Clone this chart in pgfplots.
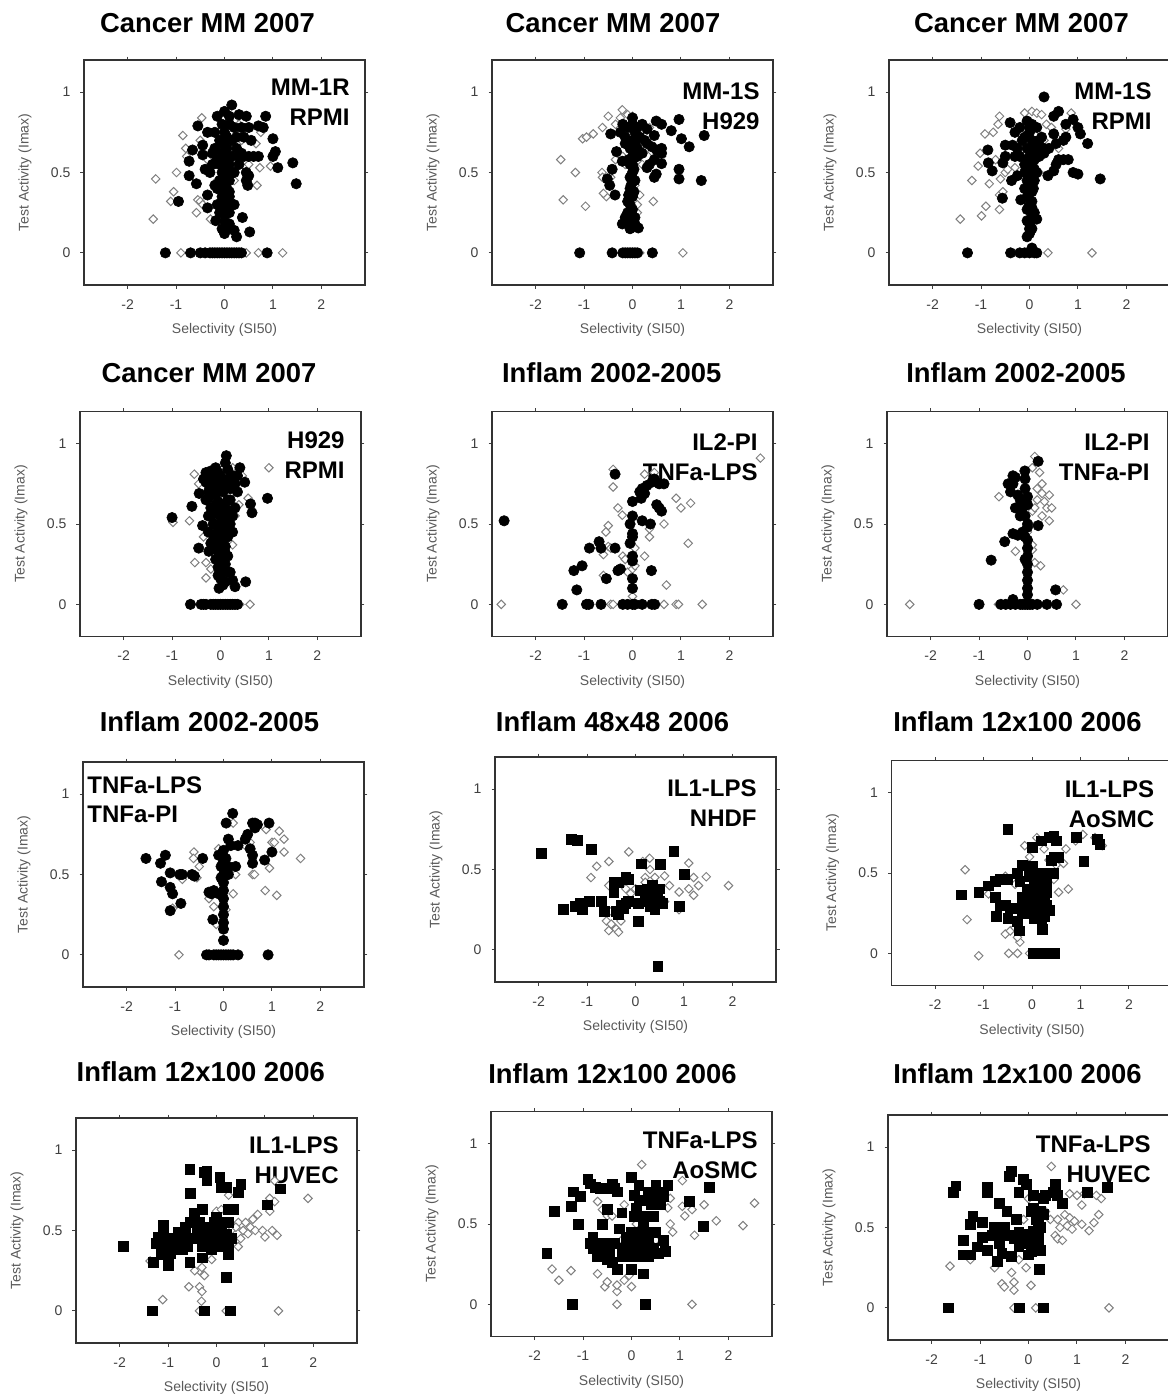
\documentclass[border=0pt]{standalone}
\usepackage{pgfplots}
\pgfplotsset{compat=1.18}
\usepackage{fontspec}
\setmainfont{Liberation Sans}
\pgfplotsset{
 panel/.style={
  scale only axis, width=140.5pt, height=112.5pt, anchor=north west,
  xmin=-2.9, xmax=2.9, ymin=-0.2, ymax=1.2,
  xtick={-2,-1,0,1,2}, xticklabels={-2,-1,0,1,2},
  ytick={0,0.5,1}, yticklabels={0,0.5,1},
  tick align=outside, major tick length=1.75pt,
  tick style={color=black!75, line width=0.5pt},
  axis line style={color=black!80, line width=0.8pt},
  ticklabel style={font=\fontsize{7}{8}\selectfont, text=black!75},
  x tick label style={yshift=-2pt},
  y tick label style={xshift=-1.5pt},
  xlabel={Selectivity (SI50)}, ylabel={Test Activity (Imax)},
  every axis x label/.style={at={(axis description cs:0.5,-0.2)},anchor=center,font=\fontsize{7}{8}\selectfont,text=black!65},
  every axis y label/.style={at={(axis description cs:-0.21,0.5)},anchor=center,rotate=90,font=\fontsize{7}{8}\selectfont,text=black!65},
 },
 circ/.style={only marks, mark=*, mark size=2.6pt, mark options={fill=black, draw=black, line width=0.3pt}},
 sq/.style={only marks, mark=square*, mark size=2.45pt, mark options={fill=black, draw=black, line width=0.3pt}},
 dia/.style={only marks, mark=square*, mark size=1.5pt, mark options={rotate=45, draw=black!50, fill=white, line width=0.5pt}},
}
\tikzset{
 ttl/.style={font=\fontsize{13.7}{16}\selectfont\bfseries},
 lab/.style={anchor=north east, align=right, inner sep=0pt, font=\fontsize{12}{15}\selectfont\bfseries},
 labl/.style={anchor=north west, align=left, inner sep=0pt, font=\fontsize{12}{14.5}\selectfont\bfseries},
}
\begin{document}
\begin{tikzpicture}
\path[use as bounding box] (0,0) rectangle (583.5pt,-698.5pt);
% titles
\node[ttl] at (103.75pt,-11.35pt) {Cancer MM 2007};
\node[ttl] at (306.5pt,-11.35pt) {Cancer MM 2007};
\node[ttl] at (510.75pt,-11.35pt) {Cancer MM 2007};
\node[ttl] at (104.5pt,-186.35pt) {Cancer MM 2007};
\node[ttl] at (305.85pt,-186.35pt) {Inflam 2002-2005};
\node[ttl] at (508pt,-186.35pt) {Inflam 2002-2005};
\node[ttl] at (104.75pt,-360.85pt) {Inflam 2002-2005};
\node[ttl] at (306.25pt,-360.85pt) {Inflam 48x48 2006};
\node[ttl] at (508.75pt,-360.85pt) {Inflam 12x100 2006};
\node[ttl] at (100.4pt,-535.85pt) {Inflam 12x100 2006};
\node[ttl] at (306.25pt,-537pt) {Inflam 12x100 2006};
\node[ttl] at (508.75pt,-537pt) {Inflam 12x100 2006};

% P1
\begin{axis}[panel, at={(42pt,-30pt)}]
\addplot[dia] coordinates {(-1.47,0.21) (-1.42,0.46) (-1.11,0.32) (-1.05,0.38) (-0.99,0.5) (-0.86,0.73) (-0.8,0.65) (-0.78,0.6) (-0.47,0.84) (-0.55,0.33) (-0.58,0.25) (-0.5,0.32) (-0.45,0.3) (-0.29,0.21) (-0.3,0.75) (-0.5,0.7) (-0.2,0.55) (-0.35,0.58) (0.2,0.82) (0.3,0.8) (0.35,0.7) (0.5,0.7) (0.65,0.68) (0.73,0.53) (0.95,0.54) (0.67,0.42) (0.75,0.75) (0.5,0.55) (0.45,0.6) (0.2,0.45) (0.1,0.6) (0.25,0.55) (0,0.58) (-0.1,0.4) (-0.15,0.45) (-0.9,0) (0.45,0) (0.7,0) (1.2,0) (0.3,0)};
\addplot[circ] coordinates {(-1.22,0) (-0.7,0) (-0.5,0) (-0.4,0) (-0.3,0) (-0.25,0) (-0.2,0) (-0.15,0) (-0.1,0) (-0.05,0) (0,0) (0.05,0) (0.1,0) (0.15,0) (0.2,0) (0.25,0) (0.3,0) (0.35,0) (0.88,0)
(0.15,0.92) (0,0.88) (-0.15,0.85) (0.3,0.86) (0.45,0.85) (0.85,0.85) (0.1,0.8) (-0.05,0.8) (0.5,0.78) (0.7,0.79) (0.8,0.78) (-0.55,0.79) (-0.35,0.75) (0.25,0.72) (0.4,0.72) (1.0,0.71) (-0.45,0.67) (-0.2,0.65) (-0.66,0.64) (0.05,0.65) (0.5,0.6) (0.6,0.6) (0.7,0.6) (0.4,0.6) (1.0,0.6) (1.05,0.63) (-0.45,0.61) (-0.73,0.57) (-0.4,0.52) (-0.3,0.5) (0.2,0.5) (0.45,0.5) (0.5,0.48) (1.1,0.53) (1.41,0.56) (1.48,0.43) (-0.73,0.48) (-0.58,0.43) (0.45,0.45) (0.48,0.42) (-0.2,0.42) (-0.35,0.36) (-0.95,0.32) (-0.35,0.28) (-0.15,0.3) (0.1,0.35) (0.2,0.3) (0.37,0.22) (-0.18,0.2) (0.05,0.15) (0.2,0.14) (0.25,0.1) (0.52,0.13) (0,0.12) (0,0.2) (0,0.25) (0,0.3) (0,0.35) (0,0.4) (0,0.45) (0,0.5) (0,0.55) (0,0.6) (0,0.7) (0,0.75) (-0.05,0.5) (0.05,0.4) (-0.1,0.55) (0.1,0.45) (-0.05,0.35) (0.05,0.3) (0.05,0.6) (-0.1,0.7) (0.15,0.7) (0.2,0.78) (0.1,0.85) (-0.05,0.62) (-0.15,0.58) (0.15,0.6) (0.3,0.55) (0.3,0.6) (-0.25,0.55) (0.02,0.65) (0.05,0.25) (-0.05,0.45) (0.1,0.38)
(-0.1,0.25) (0.1,0.25) (-0.1,0.45) (0.1,0.55) (-0.15,0.4) (0.15,0.5) (-0.05,0.68) (0.05,0.72) (-0.2,0.75) (0.25,0.65) (0.35,0.78) (-0.25,0.62) (0.1,0.18) (-0.05,0.15) (0.35,0.62) (0.55,0.7)};
\node[lab] at ([xshift=-7.5pt,yshift=-9.5pt]rel axis cs:1,1) {MM-1R\\RPMI};
\end{axis}

% P2
\begin{axis}[panel, at={(246pt,-30pt)}]
\addplot[dia] coordinates {(-1.48,0.58) (-1.43,0.33) (-1.18,0.5) (-0.97,0.29) (-1.03,0.71) (-0.95,0.72) (-0.81,0.74) (-0.62,0.78) (-0.5,0.85) (-0.21,0.89) (-0.25,0.84) (-0.1,0.86) (0,0.85) (-0.35,0.8) (-0.63,0.5) (-0.62,0.47) (-0.54,0.35) (-0.6,0.37) (-0.35,0.58) (-0.2,0.6) (-0.15,0.55) (-0.45,0.47) (0.15,0.36) (0.1,0.25) (0.1,0.3) (0.43,0.32) (0.2,0.8) (0.35,0.78) (0.5,0.6) (0.4,0.63) (0.6,0.6) (0.1,0.7) (0.2,0.55) (0.05,0.42) (0,0.45) (0.15,0) (0.1,0) (1.04,0)};
\addplot[circ] coordinates {(-1.09,0) (-0.42,0) (-0.2,0) (-0.15,0) (-0.1,0) (-0.05,0) (0,0) (0.05,0) (0.1,0) (0.41,0)
(0.12,0.155) (-0.21,0.18) (-0.15,0.22) (-0.1,0.25) (-0.05,0.3) (0,0.35) (-0.05,0.4) (0,0.45) (0,0.5) (-0.05,0.55) (0,0.6) (-0.05,0.65) (0,0.7) (0.05,0.75) (0,0.8) (0,0.84) (-0.1,0.78) (0.05,0.68) (-0.08,0.58) (0.03,0.52) (-0.03,0.42) (0.03,0.38) (-0.1,0.32) (0,0.27) (-0.08,0.2) (0.05,0.22)
(-0.45,0.74) (-0.25,0.75) (-0.15,0.72) (-0.33,0.63) (-0.21,0.57) (-0.42,0.52) (-0.52,0.46) (-0.47,0.42) (-0.36,0.36)
(0.49,0.82) (0.6,0.8) (0.96,0.83) (0.8,0.76) (1.48,0.73) (1.01,0.71) (1.17,0.66) (0.6,0.65) (0.45,0.73) (0.3,0.77) (0.2,0.8) (0.3,0.68) (0.4,0.66) (0.5,0.64) (0.6,0.62) (0.6,0.555) (0.35,0.55) (0.3,0.53) (0.45,0.58) (0.49,0.49) (0.45,0.47) (0.96,0.52) (0.96,0.46) (1.42,0.45) (0.15,0.72) (0.1,0.6) (0.2,0.62)
(-0.05,0.15) (0.05,0.18) (0,0.2) (-0.05,0.47) (0.05,0.6) (0,0.55) (0.1,0.78) (-0.15,0.68) (-0.2,0.8) (0.25,0.7) (0.1,0.65) (-0.08,0.36) (0.05,0.45) (0,0.65)};
\node[lab] at ([xshift=-6.5pt,yshift=-11pt]rel axis cs:1,1) {MM-1S\\H929};
\end{axis}

% P3
\begin{axis}[panel, at={(444.5pt,-30pt)}]
\addplot[dia] coordinates {(-1.43,0.21) (-1.19,0.45) (-0.99,0.23) (-0.9,0.29) (-0.83,0.43) (-1.06,0.54) (-1.02,0.62) (-0.92,0.74) (-0.75,0.75) (-0.62,0.85) (-0.65,0.8) (-0.62,0.27) (-0.62,0.36) (-0.55,0.38) (-0.6,0.46) (-0.5,0.5) (-0.45,0.52) (-0.7,0.58) (-0.3,0.53) (-0.1,0.87) (0.05,0.88) (0.15,0.87) (0.25,0.86) (0.35,0.8) (0.45,0.78) (0.86,0.87) (0.75,0.77) (0.6,0.65) (0.55,0.72) (0.3,0.7) (0.2,0.5) (0,0.4) (0,0.25) (0.38,0) (1.29,0)};
\addplot[circ] coordinates {(-1.28,0) (-0.39,0) (-0.2,0) (-0.1,0) (0,0) (0.05,0.03) (0.1,0) (0.15,0) (0.3,0.97)
(0,0.12) (0,0.15) (-0.05,0.2) (0.05,0.22) (0.15,0.21) (0.1,0.25) (0,0.3) (-0.05,0.35) (0.05,0.38) (0,0.42) (-0.18,0.33) (-0.05,0.45) (0,0.5) (0.05,0.55) (0,0.6) (-0.05,0.65) (0.05,0.7) (0,0.75) (0.05,0.8) (-0.05,0.82) (0.1,0.62) (0.1,0.52) (0.15,0.65) (0.2,0.6) (0.25,0.72) (0.15,0.78) (-0.15,0.7) (-0.2,0.6) (-0.25,0.48) (-0.1,0.5) (-0.37,0.45) (-0.56,0.34) (-0.86,0.64) (-0.85,0.56) (-0.77,0.51) (-0.55,0.56) (-0.5,0.67) (-0.35,0.67) (-0.3,0.6) (-0.4,0.81) (-0.3,0.75) (-0.5,0.6) (0.38,0.48) (0.5,0.51) (0.55,0.55) (0.6,0.58) (0.7,0.58) (0.8,0.58) (0.9,0.5) (1.0,0.49) (1.46,0.46) (1.2,0.68) (1.05,0.74) (1.0,0.78) (0.9,0.83) (0.75,0.8) (0.6,0.88) (0.5,0.85) (0.5,0.74) (0.7,0.7) (0.4,0.65) (0.55,0.68) (0.3,0.65) (0.75,0.72) (-0.1,0.4) (0.05,0.28) (-0.05,0.58)
(-0.05,0.1) (0.05,0.15) (0,0.18) (0.05,0.32) (-0.05,0.27) (0.1,0.45) (0.08,0.4) (-0.1,0.72) (0.1,0.68) (0,0.78) (-0.2,0.78) (0.2,0.7) (-0.25,0.65) (0.1,0.58) (-0.1,0.55) (0.3,0.62) (0.15,0.5)};
\node[lab] at ([xshift=-9pt,yshift=-11pt]rel axis cs:1,1) {MM-1S\\RPMI};
\end{axis}

% P4
\begin{axis}[panel, at={(40pt,-205.75pt)}]
\addplot[dia] coordinates {(1.0,0.85) (0.57,0.66) (0.38,0.62) (-0.54,0.81) (-0.45,0.75) (-0.64,0.52) (-0.98,0.51) (-0.53,0.26) (-0.3,0.165) (-0.3,0.26) (-0.35,0.42) (-0.2,0.22) (0.25,0.37) (0.3,0.55) (0.3,0.7) (0.25,0.85) (0.45,0.8) (0.2,0.8) (0.61,0) (0.4,0)};
\addplot[circ] coordinates {(-0.62,0) (-0.4,0) (-0.35,0) (-0.3,0) (-0.2,0) (-0.15,0) (-0.1,0) (-0.05,0) (0,0) (0.05,0) (0.1,0) (0.15,0) (0.2,0) (0.25,0) (0.3,0) (0.35,0)
(0.12,0.925) (0.1,0.88) (-1.0,0.54) (-0.59,0.61) (-0.45,0.35) (-0.37,0.49) (-0.44,0.69) (-0.24,0.33) (0.52,0.14) (0.25,0.15) (0.3,0.11) (0.62,0.625) (0.65,0.57) (0.97,0.66) (0.4,0.85) (0.35,0.8) (0.5,0.76) (0.3,0.6) (0.25,0.55) (0.2,0.5)
(-0.3,0.82) (-0.25,0.8) (-0.2,0.83) (-0.15,0.81) (-0.1,0.78) (-0.05,0.82) (0,0.8) (0.05,0.77) (-0.3,0.76) (-0.2,0.74) (-0.15,0.7) (-0.25,0.66) (-0.1,0.68) (0,0.72) (0.1,0.74) (0.2,0.72) (-0.05,0.64) (0.05,0.62) (-0.15,0.6) (-0.3,0.65) (0.15,0.65) (-0.2,0.55) (-0.05,0.56) (0.05,0.52) (-0.1,0.5) (0.1,0.55) (-0.25,0.45) (-0.05,0.45) (0.05,0.45) (0.15,0.42) (-0.15,0.4) (0,0.4) (-0.2,0.38) (0.1,0.36) (-0.05,0.33) (0.05,0.3) (0,0.27) (-0.05,0.23) (0.05,0.2) (0,0.16) (0.1,0.14) (-0.03,0.1) (0.1,0.25) (0.15,0.3) (-0.1,0.28) (0.2,0.2)
(-0.25,0.75) (-0.15,0.76) (-0.05,0.74) (0.05,0.7) (0.15,0.78) (0.25,0.8) (-0.25,0.7) (-0.1,0.62) (0,0.6) (0.1,0.6) (0.2,0.65) (-0.2,0.6) (-0.15,0.5) (0,0.5) (0.1,0.48) (-0.1,0.44) (0.05,0.4) (-0.05,0.38) (0.1,0.32) (-0.1,0.34) (0,0.33) (-0.05,0.28) (0.05,0.25) (-0.05,0.18) (0.05,0.12) (0,0.22) (0.15,0.2) (-0.25,0.55) (0.2,0.58) (0.3,0.75) (0.35,0.7) (-0.35,0.78) (0.15,0.84) (-0.1,0.85) (0.25,0.45) (0.15,0.47)};
\node[lab] at ([xshift=-8pt,yshift=-10pt]rel axis cs:1,1) {H929\\RPMI};
\end{axis}

% P5
\begin{axis}[panel, at={(246pt,-205.75pt)}]
\addplot[dia] coordinates {(-2.71,0) (-0.45,0) (-0.4,0) (0,0.05) (0.65,0) (0.9,0) (0.95,0) (1.44,0) (-0.4,0.84) (-0.4,0.73) (-0.3,0.6) (-0.21,0.555) (-0.5,0.49) (-0.55,0.45) (-0.5,0.36) (-0.45,0.35) (-0.6,0.31) (-0.6,0.18) (-0.2,0.3) (-0.1,0.2) (-0.15,0.28) (0,0.22) (0.05,0.24) (0.05,0.35) (0.25,0.3) (0.35,0.42) (0.35,0.47) (0.25,0.81) (0.45,0.82) (0.65,0.5) (0.7,0.12) (0.9,0.66) (1.0,0.6) (1.2,0.63) (1.15,0.38) (2.64,0.91)};
\addplot[circ] coordinates {(-2.65,0.52) (-1.45,0) (-0.95,0) (-0.9,0) (-0.65,0) (-0.2,0) (-0.1,0) (0,0) (0.05,0) (0.2,0) (0.4,0) (0.46,0)
(-1.15,0.09) (-1.21,0.21) (-1.04,0.24) (-0.89,0.35) (-0.69,0.39) (-0.65,0.35) (-0.54,0.16) (-0.36,0.35) (-0.3,0.21) (-0.25,0.22) (-0.36,0.81) (0,0.1) (0,0.16) (0,0.27) (0,0.3) (-0.05,0.38) (0,0.42) (0,0.44) (-0.05,0.5) (0,0.55) (0,0.64) (0.18,0.66) (0.15,0.7) (0.2,0.72) (0.3,0.74) (0.4,0.76) (0.45,0.78) (0.55,0.75) (0.65,0.75) (0.25,0.69) (0.2,0.52) (0.37,0.5) (0.5,0.62) (0.55,0.6) (0.6,0.58) (0.39,0.21)};
\node[lab] at ([xshift=-7.5pt,yshift=-11pt]rel axis cs:1,1) {IL2-PI\\TNFa-LPS};
\end{axis}

% P6
\begin{axis}[panel, at={(443.5pt,-205.75pt)}]
\addplot[dia] coordinates {(-2.43,0) (1.0,0) (0.74,0.09) (0.27,0.24) (-0.59,0.67) (-0.25,0.33) (0.1,0.34) (0.1,0.37) (0.15,0.92) (0.1,0.85) (0.25,0.82) (0.3,0.75) (0.2,0.72) (0.2,0.65) (0.3,0.69) (0.45,0.68) (0.4,0.6) (0.5,0.6) (0.45,0.52) (0.3,0.55) (0.35,0.64) (0.1,0.58) (0.15,0.6) (0.05,0.5) (0,0.45) (0.15,0.26) (0,0.02) (0.25,0) (0.2,0) (-0.6,0)};
\addplot[circ] coordinates {(-1.0,0) (-0.55,0) (-0.45,0) (-0.35,0) (-0.3,0.03) (-0.25,0) (-0.15,0) (-0.1,0) (-0.05,0) (0,0) (0.05,0) (0.1,0) (0.2,0) (0.4,0) (0.6,0) (0.58,0.09) (-0.75,0.275) (-0.47,0.39) (-0.3,0.44) (-0.2,0.43) (-0.1,0.45) (0,0.4) (0,0.35) (0,0.3) (0,0.25) (0,0.2) (0,0.15) (0,0.1) (0,0.06) (-0.05,0.28) (0,0.5) (-0.05,0.55) (-0.15,0.55) (-0.25,0.6) (-0.1,0.6) (0,0.62) (0,0.67) (-0.35,0.7) (-0.4,0.75) (-0.3,0.8) (-0.25,0.79) (-0.055,0.83) (0.22,0.89) (0.22,0.49) (-0.1,0.65) (-0.2,0.68)
(0,0.48) (-0.05,0.42) (-0.05,0.72) (-0.15,0.65) (-0.05,0.78) (-0.3,0.75)};
\node[lab] at ([xshift=-9pt,yshift=-11pt]rel axis cs:1,1) {IL2-PI\\TNFa-PI};
\end{axis}

% P7
\begin{axis}[panel, at={(41.5pt,-381pt)}]
\addplot[dia] coordinates {(-0.92,0) (-0.61,0.64) (-0.62,0.6) (-0.55,0.48) (-0.5,0.55) (-0.85,0.47) (-0.95,0.5) (-1.05,0.29) (-0.3,0.35) (-0.2,0.3) (-0.15,0.19) (-0.1,0.66) (0,0.55) (0.05,0.28) (0.2,0.38) (0.2,0.82) (0.45,0.68) (0.25,0.5) (0.55,0.7) (0.6,0.5) (0.88,0.78) (0.86,0.4) (0.95,0.54) (1.0,0.7) (1.05,0.7) (1.1,0.37) (1.15,0.77) (1.25,0.72) (1.25,0.64) (1.59,0.6) (0.64,0.5)};
\addplot[circ] coordinates {(-0.35,0) (-0.3,0) (-0.2,0) (-0.15,0) (-0.1,0) (-0.05,0) (0,0) (0.05,0) (0.1,0) (0.15,0) (0.2,0) (0.3,0) (0.92,0)
(-1.6,0.6) (-1.3,0.57) (-1.2,0.62) (-1.28,0.455) (-1.1,0.51) (-1.1,0.42) (-1.05,0.38) (-1.1,0.275) (-0.88,0.32) (-0.9,0.5) (-0.85,0.5) (-0.65,0.5) (-0.6,0.49) (-0.43,0.6) (-0.25,0.38) (-0.3,0.39) (-0.2,0.4) (-0.1,0.38) (-0.22,0.22) (0,0.09) (0,0.16) (0,0.2) (0,0.25) (0,0.3) (0,0.35) (0,0.4) (0,0.45) (0,0.5) (-0.05,0.55) (-0.1,0.62) (0.05,0.6) (0.1,0.5) (0.1,0.55) (0.055,0.82) (0.19,0.88) (0.1,0.72) (0.15,0.68) (0.3,0.68) (0.25,0.55) (0.45,0.72) (0.5,0.75) (0.55,0.66) (0.6,0.62) (0.6,0.57) (0.7,0.81) (0.65,0.82) (0.6,0.82) (0.65,0.79) (0.94,0.82) (0.85,0.59) (1.0,0.64) (0,0.65)
(-0.05,0.48) (0.05,0.52) (0,0.58)};
\node[labl] at ([xshift=2pt,yshift=-7pt]rel axis cs:0,1) {TNFa-LPS\\TNFa-PI};
\end{axis}

% P8
\begin{axis}[panel, at={(247.5pt,-378.5pt)}]
\addplot[dia] coordinates {(-0.92,0.45) (-0.8,0.52) (-0.55,0.55) (-0.55,0.4) (-0.5,0.24) (-0.6,0.18) (-0.55,0.12) (-0.5,0.16) (-0.4,0.13) (-0.35,0.11) (-0.3,0.18) (-0.2,0.38) (-0.14,0.61) (0,0.38) (-0.1,0.35) (0.15,0.55) (0.2,0.45) (0.2,0.42) (0.3,0.5) (0.29,0.57) (0.4,0.45) (0.45,0.38) (0.6,0.46) (0.7,0.4) (0.9,0.36) (0.9,0.25) (1.1,0.54) (1.1,0.38) (1.2,0.45) (1.2,0.34) (1.3,0.4) (1.46,0.455) (1.92,0.4) (0.6,0.3)};
\addplot[sq] coordinates {(-1.94,0.6) (-1.32,0.69) (-1.2,0.68) (-0.91,0.625) (-1.49,0.25) (-1.25,0.27) (-1.15,0.29) (-1.1,0.25) (-0.95,0.3) (-0.7,0.3) (-0.65,0.24) (-0.45,0.42) (-0.45,0.36) (-0.35,0.42) (-0.3,0.28) (-0.35,0.22) (-0.25,0.26) (-0.2,0.45) (-0.2,0.29) (-0.15,0.3) (0.05,0.18) (0.05,0.29) (0.1,0.37) (0.12,0.535) (0.2,0.35) (0.25,0.3) (0.3,0.27) (0.3,0.36) (0.35,0.4) (0.35,0.33) (0.4,0.3) (0.4,0.25) (0.45,0.35) (0.5,0.3) (0.5,0.38) (0.55,0.29) (0.51,0.53) (0.79,0.615) (0.91,0.27) (1.0,0.47) (0.46,-0.1) (0.3,0.3) (0.35,0.28) (-0.4,0.24) (-0.15,0.44) (0.25,0.38)};
\node[lab] at ([xshift=-9.5pt,yshift=-11pt]rel axis cs:1,1) {IL1-LPS\\NHDF};
\end{axis}

% P9
\begin{axis}[panel, at={(445.75pt,-380.25pt)}]
\addplot[dia] coordinates {(-1.38,0.52) (-1.34,0.21) (-1.1,-0.015) (-0.48,0) (-0.3,0) (-0.05,0) (-0.55,0.12) (-0.45,0.14) (-0.35,0.16) (-0.3,0.2) (-0.25,0.07) (-0.3,0.1) (-0.35,0.43) (-0.55,0.48) (-0.9,0.37) (-0.15,0.67) (-0.05,0.6) (0.1,0.72) (0.25,0.65) (0.15,0.5) (0.5,0.55) (0.65,0.56) (0.7,0.65) (0.75,0.4) (0.55,0.38) (0.45,0.46) (0.35,0.58) (0.9,0.7) (1.05,0.74) (1.45,0.67) (1.3,0.72)};
\addplot[sq] coordinates {(-1.46,0.365) (-1.1,0.38) (-0.9,0.42) (-0.75,0.45) (-0.65,0.46) (-0.5,0.46) (-0.75,0.35) (-0.65,0.3) (-0.74,0.23) (-0.5,0.22) (-0.55,0.3) (-0.45,0.28) (-0.5,0.77) (-0.3,0.5) (-0.2,0.55) (-0.25,0.45) (-0.1,0.4) (-0.2,0.35) (-0.3,0.28) (-0.27,0.14) (-0.3,0.2) (0,0.66) (0,0.54) (0.1,0.5) (0.15,0.45) (0.2,0.4) (0.05,0.35) (0.1,0.3) (0.15,0.25) (0.2,0.28) (0.25,0.33) (0.3,0.3) (0.35,0.27) (0.25,0.5) (0.35,0.5) (0.45,0.5) (0.21,0.15) (0.2,0.7) (0.35,0.72) (0.45,0.73) (0.5,0.7) (0.45,0.6) (0.55,0.6) (0.4,0.58) (0.92,0.72) (1.34,0.71) (1.4,0.68) (1.07,0.575) (0,0.3) (-0.05,0.38) (0.1,0.38) (0.15,0.35) (0,0.25) (0.05,0.22) (0.2,0.22) (0.25,0.23) (0.02,0) (0.25,0) (0.3,0) (0.35,0) (0.47,0)
(0,0.4) (0.05,0.45) (-0.1,0.33) (0.1,0.42) (0.2,0.35) (0.3,0.38) (-0.15,0.3) (0.05,0.27) (0.15,0.3) (0.25,0.42) (-0.05,0.48) (0.3,0.45) (-0.2,0.25)};
\node[lab] at ([xshift=-9pt,yshift=-10pt]rel axis cs:1,1) {IL1-LPS\\AoSMC};
\end{axis}

% P10
\begin{axis}[panel, at={(38pt,-559pt)}]
\addplot[dia] coordinates {(-1.37,0.31) (-1.11,0.07) (-0.57,0.15) (-0.31,0.06) (-0.35,0.15) (-0.3,0.12) (-0.35,0.25) (-0.3,0.27) (-0.25,0.22) (-0.45,0.25) (-0.35,0) (0.2,0) (1.28,0) (-0.1,0.32) (0,0.62) (0.1,0.63) (0.25,0.72) (0.45,0.55) (0.45,0.4) (0.5,0.45) (0.55,0.5) (0.6,0.55) (0.65,0.48) (0.7,0.52) (0.75,0.57) (0.8,0.5) (0.85,0.6) (0.95,0.5) (1.0,0.46) (1.1,0.62) (1.1,0.7) (1.15,0.5) (1.2,0.81) (1.2,0.68) (1.25,0.47) (1.89,0.7) (0.3,0.5) (0.4,0.52)};
\addplot[sq] coordinates {(-1.93,0.4) (-1.32,0) (-0.25,0) (0.28,0) (0.21,0.21) (-1.3,0.3) (-1.25,0.42) (-1.2,0.46) (-1.1,0.53) (-1.05,0.4) (-1.0,0.33) (-1.0,0.28) (-0.95,0.36) (-0.9,0.42) (-0.8,0.49) (-0.75,0.44) (-0.7,0.38) (-0.65,0.4) (-0.6,0.45) (-0.55,0.55) (-0.55,0.3) (-0.55,0.88) (-0.54,0.73) (-0.45,0.61) (-0.4,0.51) (-0.35,0.45) (-0.3,0.63) (-0.3,0.4) (-0.3,0.33) (-0.25,0.86) (-0.2,0.87) (-0.2,0.81) (-0.15,0.5) (-0.1,0.45) (-0.05,0.55) (0,0.58) (0,0.42) (0.07,0.83) (0.1,0.77) (0.2,0.77) (0.25,0.63) (0.25,0.55) (0.2,0.48) (0.1,0.45) (0.25,0.35) (0.35,0.63) (0.45,0.74) (0.5,0.79) (1.05,0.66) (1.31,0.76) (-0.1,0.38) (0.05,0.4) (0.15,0.45) (-0.2,0.4) (-0.45,0.45) (-0.85,0.38) (-1.15,0.35) (-1.1,0.47) (-0.65,0.52) (0,0.5) (0.1,0.55) (-0.35,0.55)
(-0.2,0.45) (0,0.45) (0.2,0.42) (-0.1,0.5) (0.1,0.5) (0.2,0.55) (-0.25,0.52) (0.3,0.45) (0.25,0.4) (-0.75,0.38) (-0.9,0.45) (-0.6,0.4)};
\node[lab] at ([xshift=-9pt,yshift=-9pt]rel axis cs:1,1) {IL1-LPS\\HUVEC};
\end{axis}

% P11
\begin{axis}[panel, at={(245.5pt,-555.75pt)}]
\addplot[dia] coordinates {(-1.64,0.22) (-1.5,0.15) (-1.25,0.21) (-0.7,0.19) (-0.55,0.11) (-0.5,0.14) (-0.3,0.08) (-0.3,0.12) (-0.3,0) (0,0.11) (-0.05,0.18) (-0.15,0.15) (-0.7,0.64) (-0.6,0.59) (-0.5,0.55) (-0.15,0.62) (0.21,0.87) (0.75,0.6) (0.8,0.66) (0.8,0.5) (0.85,0.45) (1.05,0.77) (1.05,0.61) (1.1,0.55) (1.25,0.59) (1.3,0.43) (1.25,0) (1.5,0.62) (1.75,0.52) (2.3,0.49) (2.54,0.63) (-0.2,0.4) (0.1,0.5) (0.5,0.4) (-0.4,0.55)};
\addplot[sq] coordinates {(-1.75,0.32) (-1.6,0.58) (-1.25,0.61) (-1.2,0.7) (-1.05,0.67) (-1.09,0.5) (-1.23,0) (0.29,0) (-0.9,0.78) (-0.85,0.75) (-0.75,0.73) (-0.65,0.72) (-0.55,0.72) (-0.4,0.75) (-0.35,0.72) (-0.3,0.7) (-0.6,0.5) (-0.5,0.59) (-0.7,0.38) (-0.8,0.42) (-0.8,0.35) (-0.7,0.3) (-0.6,0.3) (-0.5,0.28) (-0.4,0.26) (-0.3,0.22) (-0.25,0.47) (-0.2,0.57) (-0.1,0.37) (-0.05,0.35) (0,0.79) (0.05,0.68) (0.1,0.6) (0.15,0.74) (0.2,0.55) (0.25,0.5) (0.3,0.65) (0.35,0.7) (0.4,0.62) (0.45,0.55) (0.5,0.74) (0.5,0.45) (0.45,0.35) (0.3,0.4) (0.2,0.38) (0,0.22) (0.25,0.19) (0.2,0.3) (0.1,0.33) (0.35,0.3) (0.55,0.32) (0.65,0.4) (0.7,0.33) (0.75,0.74) (0.55,0.7) (0.6,0.62) (0.65,0.67) (1.2,0.64) (1.48,0.485) (1.61,0.73) (-0.35,0.38) (-0.2,0.35) (0,0.45) (0.15,0.42) (0.25,0.35) (-0.5,0.38) (-0.1,0.31)
(0,0.3) (0.1,0.38) (0.2,0.45) (-0.1,0.42) (0.35,0.38) (0.4,0.45) (0.3,0.55) (0.45,0.65) (0.15,0.65) (-0.2,0.3) (0.05,0.55) (-0.6,0.35) (-0.45,0.33) (-0.85,0.38)};
\node[lab] at ([xshift=-7pt,yshift=-10pt]rel axis cs:1,1) {TNFa-LPS\\AoSMC};
\end{axis}

% P12
\begin{axis}[panel, at={(444pt,-557.5pt)}]
\addplot[dia] coordinates {(-1.62,0.26) (-1.2,0.3) (-0.7,0.25) (-0.55,0.15) (-0.5,0.13) (-0.3,0.16) (-0.3,0.11) (-0.35,0.22) (-0.2,0.3) (-0.05,0.25) (0.05,0.14) (-0.3,0) (0.15,0) (1.66,0) (0.47,0.88) (0.35,0.6) (0.45,0.55) (0.55,0.45) (0.6,0.43) (0.65,0.5) (0.7,0.42) (0.75,0.58) (0.8,0.51) (0.85,0.56) (0.9,0.49) (0.95,0.54) (1.1,0.64) (1.1,0.52) (1.25,0.48) (1.35,0.53) (1.45,0.58) (1.5,0.68) (1.15,0.71) (1.4,0.7) (-0.1,0.55) (0,0.68) (0.6,0.55) (0.85,0.71) (1.0,0.7)};
\addplot[sq] coordinates {(-1.66,0) (-0.19,0) (0.31,0) (0.23,0.24) (-1.5,0.76) (-1.55,0.72) (-1.34,0.42) (-1.35,0.33) (-1.2,0.33) (-1.15,0.57) (-1.2,0.52) (-1.05,0.38) (-0.95,0.53) (-0.85,0.75) (-0.85,0.72) (-0.85,0.36) (-0.75,0.45) (-0.65,0.29) (-0.6,0.65) (-0.55,0.34) (-0.5,0.5) (-0.45,0.6) (-0.4,0.82) (-0.35,0.85) (-0.35,0.32) (-0.3,0.43) (-0.25,0.55) (-0.2,0.72) (-0.1,0.8) (-0.05,0.77) (0,0.46) (0,0.33) (0.05,0.6) (0.1,0.7) (0.15,0.4) (0.2,0.52) (0.25,0.6) (0.25,0.36) (0.3,0.68) (0.35,0.7) (0.55,0.77) (0.5,0.72) (0.6,0.7) (0.7,0.65) (0.2,0.45) (-0.1,0.4) (0.1,0.43) (-0.2,0.38) (1.21,0.72) (1.63,0.75) (-0.7,0.5) (-0.95,0.44) (-0.6,0.4)
(0,0.4) (0.1,0.48) (-0.1,0.45) (0.2,0.4) (0.15,0.55) (-0.2,0.47) (-0.4,0.45) (-0.55,0.45) (0.05,0.35) (0.25,0.5) (0.3,0.58) (0.1,0.62)};
\node[lab] at ([xshift=-9pt,yshift=-10pt]rel axis cs:1,1) {TNFa-LPS\\HUVEC};
\end{axis}
\end{tikzpicture}
\end{document}
